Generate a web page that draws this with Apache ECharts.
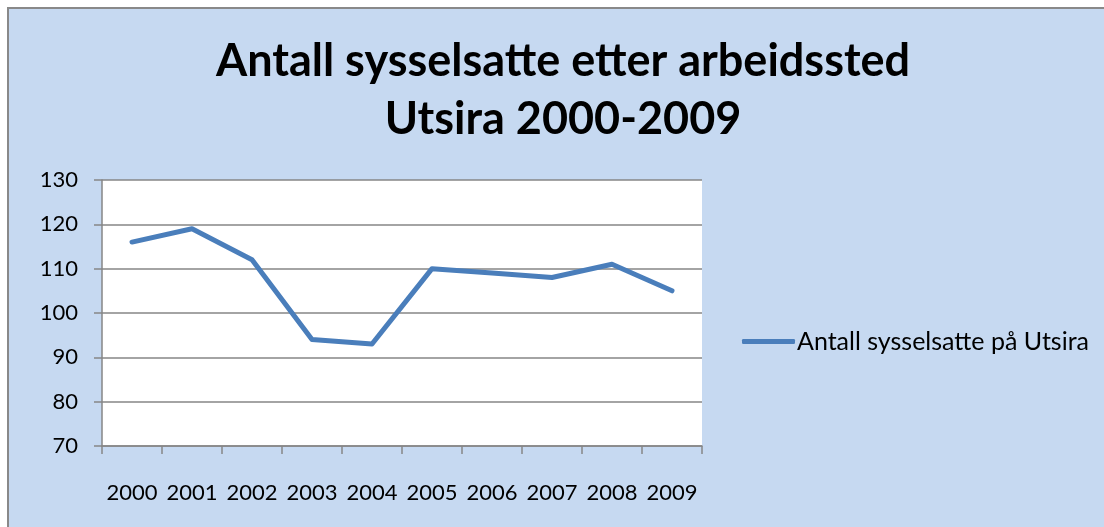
<!DOCTYPE html>
<html>
<head>
<meta charset="utf-8">
<script src="https://cdn.jsdelivr.net/npm/echarts@6/dist/echarts.min.js"></script>
<style>
html,body{margin:0;padding:0;background:#fff;}
#c{width:1104px;height:527px;}
</style>
</head>
<body>
<div id="c"></div>
<script>
var titleLines = ['Antall sysselsatte etter arbeidssted', 'Utsira 2000-2009'];
var categories = ['2000','2001','2002','2003','2004','2005','2006','2007','2008','2009'];
var seriesName = 'Antall sysselsatte på Utsira';
var values = [116, 119, 112, 94, 93, 110, 109, 108, 111, 105];
var yMin = 70, yMax = 130, yStep = 10;

var chart = echarts.init(document.getElementById('c'));
var font = 'Lato, "Open Sans", sans-serif';
chart.setOption({
  backgroundColor: '#ffffff',
  animation: false,
  graphic: [{
    type: 'rect', z: -10, silent: true,
    shape: {x: 8, y: 8, width: 1200, height: 600},
    style: {fill: '#C6D9F1', stroke: '#898989', lineWidth: 2}
  }],
  title: {
    text: titleLines.join('\n'),
    left: 563, top: 32, textAlign: 'center', padding: 0,
    textStyle: {fontFamily: font, fontWeight: 'bold', fontSize: 45, color: '#000', lineHeight: 58}
  },
  grid: {left: 102, right: 402, top: 180, bottom: 81, show: true, backgroundColor: '#ffffff', borderWidth: 0},
  legend: {
    data: [seriesName],
    left: 742, top: 329, padding: 0,
    icon: 'roundRect', itemWidth: 53, itemHeight: 5, itemGap: 5,
    textStyle: {fontFamily: font, fontSize: 25, color: '#000', padding: [0,0,0,-3]}
  },
  xAxis: {
    type: 'category', data: categories, boundaryGap: true,
    axisLine: {lineStyle: {color: '#868686', width: 1.5}},
    axisTick: {show: true, interval: 0, length: 8, lineStyle: {color: '#868686', width: 1.5}},
    axisLabel: {interval: 0, margin: 36, fontFamily: font, fontSize: 22, color: '#000'}
  },
  yAxis: {
    type: 'value', min: yMin, max: yMax, interval: yStep,
    axisLine: {show: true, lineStyle: {color: '#868686', width: 1.5}},
    axisTick: {show: true, length: 8, lineStyle: {color: '#868686', width: 1.5}},
    splitLine: {lineStyle: {color: '#868686', width: 1.5}},
    axisLabel: {margin: 24, fontFamily: font, fontSize: 22, color: '#000'}
  },
  series: [{
    name: seriesName, type: 'line', data: values,
    showSymbol: false, symbol: 'none',
    lineStyle: {color: '#4A7EBB', width: 5, join: 'round', cap: 'round'},
    itemStyle: {color: '#4A7EBB'}
  }]
});
</script>
</body>
</html>
